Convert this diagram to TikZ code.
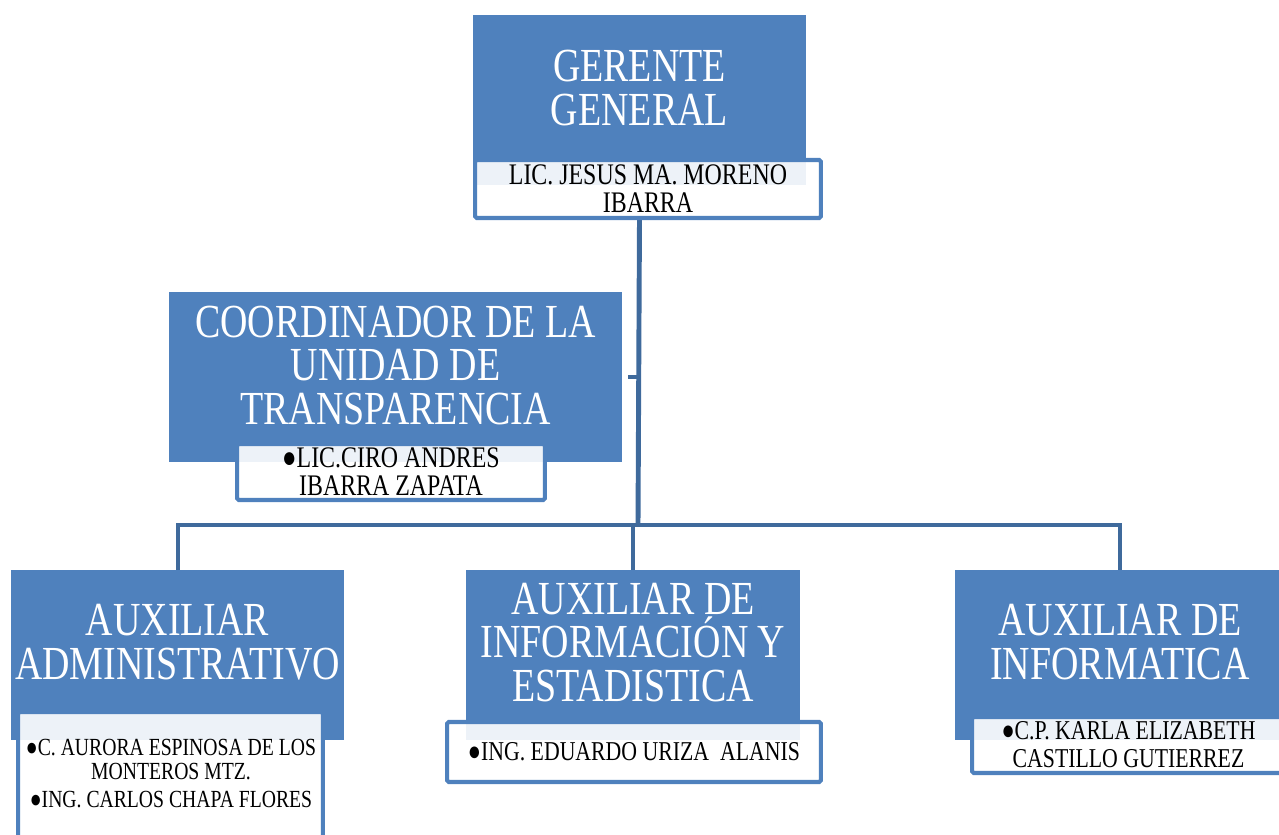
\documentclass[tikz,border=0pt]{standalone}
\usepackage{fontspec}
\setmainfont{Liberation Serif}[FakeStretch=0.8]
\usepackage{xcolor}
\usepackage{tikz}

\definecolor{cajaazul}{HTML}{4F81BD}
\definecolor{lineaazul}{HTML}{3F6A9C}

\tikzset{
  puesto/.style={fill=cajaazul, draw=none, inner sep=0pt},
  titulo/.style={text=white, align=center, inner sep=0pt, font=\fontsize{27}{25}\selectfont},
  nombre/.style={draw=cajaazul, line width=2.3pt, fill=white, fill opacity=0.9, text opacity=1,
    rounded corners=1pt, inner sep=0pt, align=center, font=\fontsize{17}{16}\selectfont},
  nombretxt/.style={align=center, inner sep=0pt, font=\fontsize{14}{14.2}\selectfont},
  rama/.style={draw=lineaazul, line width=2.8pt}
}

\begin{document}
\begin{tikzpicture}[x=0.02cm, y=-0.02cm]
\useasboundingbox (0,0) rectangle (1279,835);

% cajas de los puestos
\node[puesto, minimum width=6.66cm, minimum height=3.4cm] (ger) at (639.5,100) {};
\node[puesto, minimum width=9.06cm, minimum height=3.4cm] (coord) at (395.5,377) {};
\node[puesto, minimum width=6.66cm, minimum height=3.4cm] (admin) at (177.5,655) {};
\node[puesto, minimum width=6.68cm, minimum height=3.4cm] (info) at (633,655) {};
\node[puesto, minimum width=6.6cm, minimum height=3.4cm] (inform) at (1120,655) {};

% lineas
\coordinate (jn) at (638,525);
\coordinate (jl) at (178,525);
\coordinate (jr) at (1120,525);
\draw[rama] (ger.center |- 0,218) -- (jn);
\draw[rama] ([xshift=0.12cm]coord.east) -- (coord.east -| jn);
\draw[rama] (jl |- admin.north) -- (jl) -- (jr) -- (jr |- inform.north);
\draw[rama] (info.north) -- (info.north |- jn);

% titulos
\node[titulo] (gertit) at (639.5,88) {GERENTE\\GENERAL};
\node[titulo] (coordtit) at (395.5,365.5) {COORDINADOR DE LA\\UNIDAD DE\\TRANSPARENCIA};
\node[titulo] (admintit) at (177.5,642) {AUXILIAR\\ADMINISTRATIVO};
\node[titulo] (infotit) at (633,642.5) {AUXILIAR DE\\INFORMACIÓN Y\\ESTADISTICA};
\node[titulo] (informtit) at (1120,642) {AUXILIAR DE\\INFORMATICA};

% nombres
\node[nombre, minimum width=6.92cm, minimum height=1.16cm] (gersub) at (648,189)
  {LIC. JESUS MA. MORENO\\IBARRA};
\node[nombre, minimum width=6.16cm, minimum height=1.12cm] (coordsub) at (391,472)
  {●LIC.CIRO ANDRES\\IBARRA ZAPATA};
\node[nombre, minimum width=6.1cm, minimum height=3.76cm] (adminsub) at (170.5,806) {};
\node[nombretxt] (admintxt) at (171,773.5)
  {●C. AURORA ESPINOSA DE LOS\\MONTEROS MTZ.\\[1.7pt]●ING. CARLOS CHAPA FLORES};
\node[nombre, minimum width=7.48cm, minimum height=1.2cm, font=\fontsize{15.5}{15.9}\selectfont] (infosub) at (634,752)
  {●ING. EDUARDO URIZA\ \ ALANIS};
\node[nombre, minimum width=6.26cm, minimum height=1.12cm, font=\fontsize{15.5}{15.9}\selectfont] (informsub) at (1128.5,745)
  {●C.P. KARLA ELIZABETH\\CASTILLO GUTIERREZ};
\end{tikzpicture}
\end{document}
